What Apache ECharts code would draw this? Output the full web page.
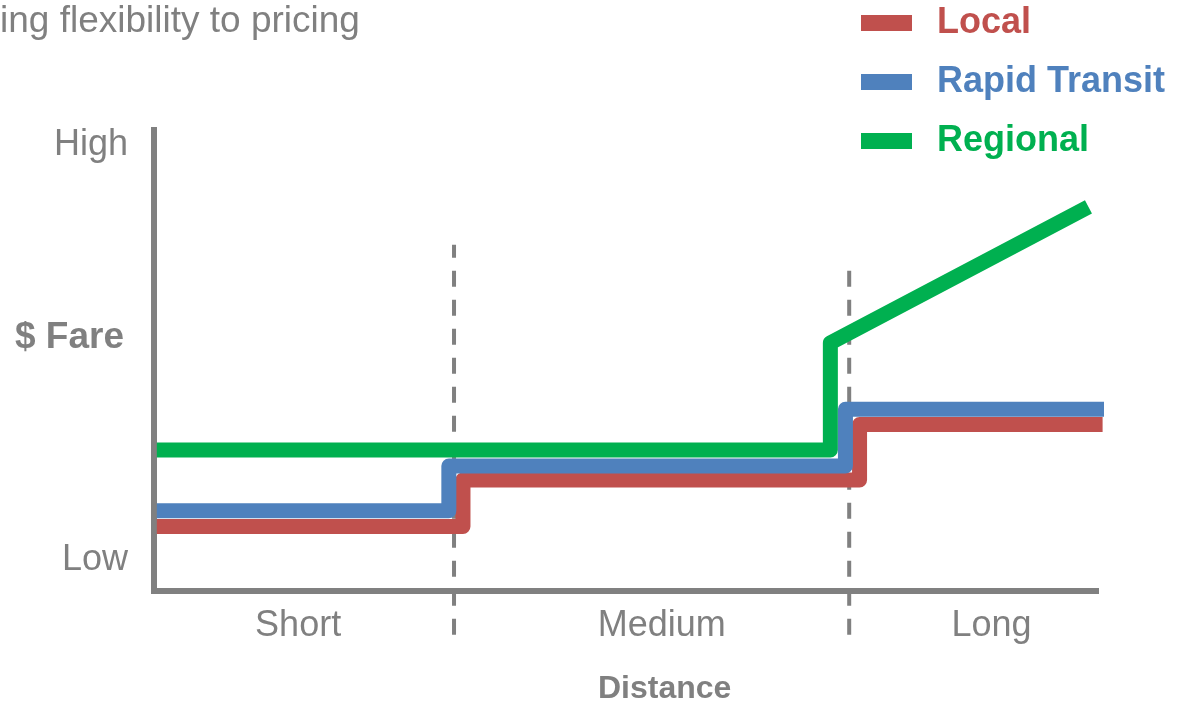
<!DOCTYPE html>
<html>
<head>
<meta charset="utf-8">
<script src="https://cdn.jsdelivr.net/npm/echarts@6/dist/echarts.min.js"></script>
<style>
  html, body { margin: 0; padding: 0; background: #ffffff; }
  #chart { width: 1188px; height: 702px; }
</style>
</head>
<body>
<div id="chart"></div>
<script>
// Fare structure by distance band (relative units: distance 0-100, fare 0-100)
const seriesNames = ['Local', 'Rapid Transit', 'Regional'];
const seriesColors = ['#c0504d', '#4f81bd', '#00b050'];

// Corner points of each fare profile: [distance, fare]
const localFare = [[0.3, 14.0], [32.8, 14.0], [32.8, 24.1], [74.9, 24.1], [74.9, 36.1], [100.7, 36.1]];
const rapidFare = [[0.3, 17.4], [31.3, 17.4], [31.3, 27.1], [73.4, 27.1], [73.4, 39.4], [101.0, 39.4]];
const regionalFare = [[0.3, 30.6], [71.8, 30.6], [71.8, 53.8], [99.2, 83.3]];

// Distance band boundaries (dashed guides) and their vertical extent
const bandBoundaries = [31.85, 73.8];
const boundaryTops = [75.1, 70.5];
const boundaryBottom = -9.5;

// Axis tick labels
const xLabels = ['Short', 'Medium', 'Long'];
const xLabelPositions = [15.3, 53.9, 88.9];
const yLabels = ['Low', 'High'];
const yLabelPositions = [6.8, 96.8];

const grey = '#808080';
const font = 'Liberation Sans, Arial, sans-serif';

const fareData = [localFare, rapidFare, regionalFare];

const boundarySeries = bandBoundaries.map((x, i) => ({
  name: 'Band boundary ' + (i + 1),
  type: 'line',
  data: [[x, boundaryBottom], [x, boundaryTops[i]]],
  symbol: 'none',
  clip: false,
  silent: true,
  z: 1,
  lineStyle: { color: grey, width: 4, type: [16, 13] }
}));

const fareSeries = seriesNames.map((name, i) => ({
  name: name,
  type: 'line',
  data: fareData[i],
  symbol: 'none',
  clip: false,
  z: 3 + i,
  color: seriesColors[i],
  itemStyle: { color: seriesColors[i] },
  lineStyle: { color: seriesColors[i], width: 15, cap: 'butt', join: 'round' }
}));

const chart = echarts.init(document.getElementById('chart'), null, { renderer: 'canvas' });

chart.setOption({
  animation: false,
  backgroundColor: '#ffffff',
  title: [
    {
      text: 'ing flexibility to pricing',
      left: 0, top: 3, padding: 0,
      textStyle: { fontFamily: font, fontSize: 37, fontWeight: 'normal', color: grey }
    },
    {
      text: '$ Fare',
      left: 15, top: 319, padding: 0,
      textStyle: { fontFamily: font, fontSize: 37, fontWeight: 'bold', color: grey }
    },
    {
      text: 'Distance',
      left: 598, top: 673, padding: 0,
      textStyle: { fontFamily: font, fontSize: 32, fontWeight: 'bold', color: grey }
    }
  ],
  legend: {
    orient: 'vertical',
    left: 861, top: 3,
    padding: 0,
    icon: 'rect',
    itemWidth: 51,
    itemHeight: 16,
    itemGap: 19,
    selectedMode: false,
    data: seriesNames.map((n, i) => ({
      name: n,
      textStyle: { color: seriesColors[i] }
    })),
    textStyle: {
      fontFamily: font, fontSize: 36, fontWeight: 'bold',
      lineHeight: 40, padding: [0, 0, 0, 20]
    }
  },
  grid: { left: 154, right: 92, top: 130, bottom: 111, containLabel: false },
  xAxis: {
    type: 'value',
    min: 0, max: 100,
    splitLine: { show: false },
    axisTick: { show: false },
    axisLine: { show: true, onZero: false, lineStyle: { color: grey, width: 6, cap: 'square' } },
    axisLabel: {
      customValues: xLabelPositions,
      formatter: (v) => xLabels[xLabelPositions.indexOf(v)] || '',
      margin: 17,
      fontFamily: font, fontSize: 36, color: grey
    }
  },
  yAxis: {
    type: 'value',
    min: 0, max: 100,
    splitLine: { show: false },
    axisTick: { show: false },
    axisLine: { show: true, onZero: false, lineStyle: { color: grey, width: 6, cap: 'square' } },
    axisLabel: {
      customValues: yLabelPositions,
      formatter: (v) => yLabels[yLabelPositions.indexOf(v)] || '',
      margin: 26,
      fontFamily: font, fontSize: 36, color: grey
    }
  },
  series: boundarySeries.concat(fareSeries)
});
</script>
</body>
</html>
